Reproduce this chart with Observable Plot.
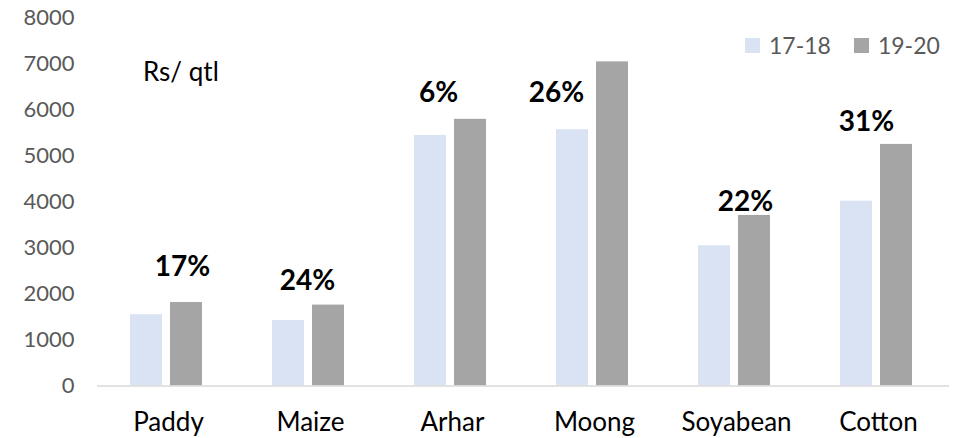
<!DOCTYPE html>
<html><head><meta charset="utf-8">
<script src="https://cdn.jsdelivr.net/npm/d3@7"></script>
<script src="https://cdn.jsdelivr.net/npm/@observablehq/plot@0.6"></script>
<style>
body{margin:0;background:#fff;font-family:Lato,"Open Sans",sans-serif}
#wrap{position:relative;width:953px;height:438px;overflow:hidden}
.unit{position:absolute;left:143px;top:58px;font-size:26px;line-height:1;color:#000;white-space:nowrap}
.legend{position:absolute;left:745px;top:34px;display:flex;align-items:center;font-size:23px;line-height:1;color:#595959;white-space:nowrap}
.sw{display:inline-block;width:15px;height:15px;margin-right:9px}
.item{display:flex;align-items:center;margin-right:23px}
</style></head><body><div id="wrap"></div>
<script>
// ---- data ----
const crops = ["Paddy", "Maize", "Arhar", "Moong", "Soyabean", "Cotton"];
const years = ["17-18", "19-20"];
const msp1718 = [1550, 1425, 5450, 5575, 3050, 4020];
const msp1920 = [1815, 1760, 5800, 7050, 3710, 5255];
const growthLabels = ["17%", "24%", "6%", "26%", "22%", "31%"];
const labelLevel = [2590, 2280, 6375, 6375, 4000, 5740];
const yTicks = [0, 1000, 2000, 3000, 4000, 5000, 6000, 7000, 8000];
const unitLabel = "Rs/ qtl";

// ---- layout (annotation offsets, px) ----
const labelShift = [14, -3, -14, -38, 9, -12];
const colors = ["#dae3f3", "#a5a5a5"];

const rows = crops.flatMap((c, i) => [
  {crop: c, year: years[0], value: msp1718[i]},
  {crop: c, year: years[1], value: msp1920[i]}
]);
const labelRows = crops.map((c, i) => ({crop: c, level: labelLevel[i], label: growthLabels[i], i}));

const plot = Plot.plot({
  width: 953,
  height: 438,
  marginLeft: 95,
  marginRight: 2,
  marginTop: 17.7,
  marginBottom: 52.5,
  style: {fontFamily: "Lato, 'Open Sans', sans-serif", background: "#fff", overflow: "visible"},
  fx: {domain: crops, padding: 0, label: null, axis: null},
  x: {domain: years, paddingInner: 0.19, paddingOuter: 0.84, axis: null},
  y: {domain: [0, 8000], label: null, axis: null},
  color: {domain: years, range: colors},
  marks: [
    Plot.barY(rows, {fx: "crop", x: "year", y: "value", fill: "year", dx: -2}),
    Plot.ruleY([0], {stroke: "#d9d9d9", strokeWidth: 1.5}),
    Plot.axisY({ticks: yTicks, tickFormat: d => String(d), tickSize: 0, tickPadding: 23, fontSize: 22, color: "#595959", label: null}),
    Plot.axisFx({anchor: "bottom", tickSize: 0, tickPadding: 27, fontSize: 26, color: "#000", label: null}),
    ...labelRows.map(d => Plot.text([d], {
      fx: "crop", y: "level", text: "label", dx: labelShift[d.i],
      fontWeight: "bold", fontSize: 28, fill: "#000"
    }))
  ]
});

const wrap = document.getElementById("wrap");
wrap.appendChild(plot);

const unit = document.createElement("div");
unit.className = "unit";
unit.textContent = unitLabel;
wrap.appendChild(unit);

const legend = document.createElement("div");
legend.className = "legend";
years.forEach((y, i) => {
  const item = document.createElement("span");
  item.className = "item";
  const sw = document.createElement("span");
  sw.className = "sw";
  sw.style.background = colors[i];
  item.appendChild(sw);
  item.appendChild(document.createTextNode(y));
  legend.appendChild(item);
});
wrap.appendChild(legend);
</script>
</body></html>
